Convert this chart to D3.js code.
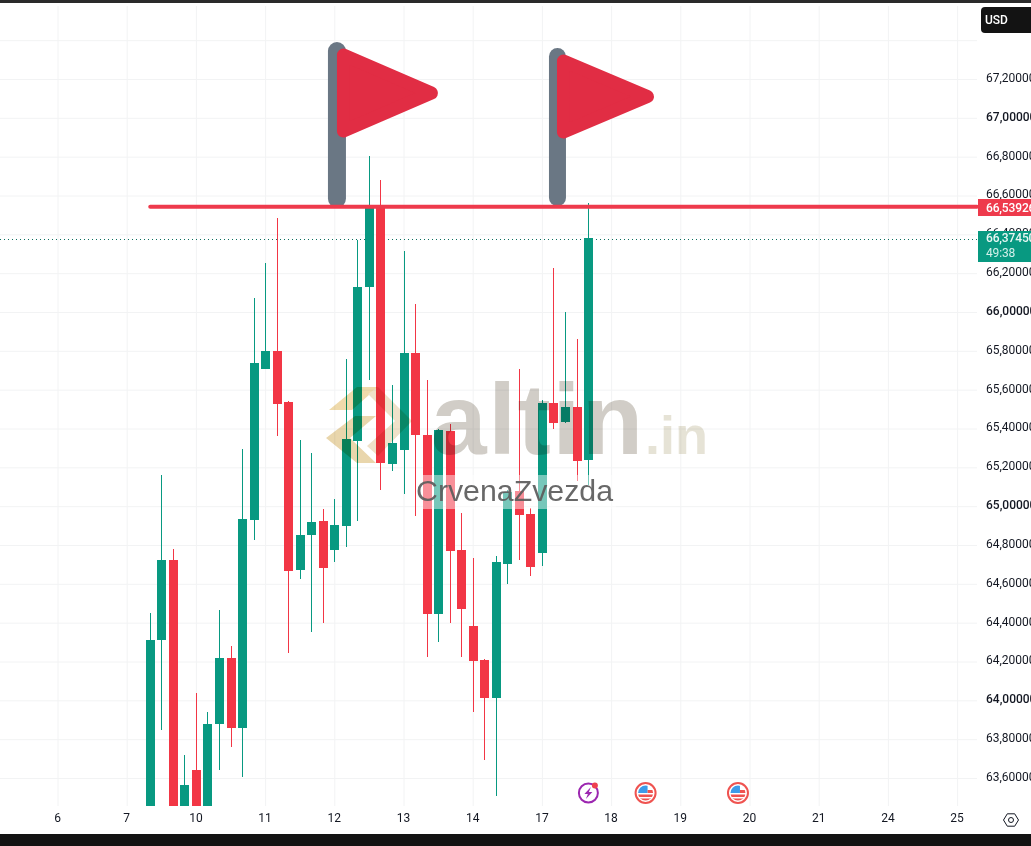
<!DOCTYPE html>
<html><head><meta charset="utf-8">
<script src="https://cdn.jsdelivr.net/npm/d3@7/dist/d3.min.js"></script>
<style>
html,body{margin:0;padding:0;background:#fff;overflow:hidden}
svg{display:block}
.ax text{font-family:Roboto,"Liberation Sans",sans-serif;font-size:12px;fill:#131722}
</style></head><body><svg id="c" width="1031" height="846"></svg>
<script>
const barIndex=[8,9,10,11,12,13,14,15,16,17,18,19,20,21,22,23,24,25,26,27,28,29,30,31,32,33,34,35,36,37,38,39,40,41,42,43,44,45,46];
const opens=[63400,64306,64718,63380,63637,63400,63874,64214,63853,64924,65702,65794,65532,64667,64847,64919,64770,64893,65331,66124,66539,65212,65285,65784,65362,64440,65382,64770,64378,64203,64008,64698,65073,64955,64754,65527,65429,65506,65233];
const highs=[64445,65156,64775,63714,64033,63936,64461,64275,65290,66067,66247,66479,65537,65336,65269,64981,65032,65753,66366,66798,66675,65619,66309,66036,65645,65392,65418,64960,64728,64208,64739,65079,65702,64986,65542,66222,65995,65856,66556];
const lows=[63300,63843,63300,63300,63350,63350,63637,63755,63601,64821,65702,65357,64239,64620,64347,64394,64708,64785,64919,65645,65079,65176,65058,64945,64219,64296,64394,64219,63936,63688,63503,64595,64718,64636,64687,65393,65424,65125,65104];
const closes=[64306,64718,63380,63560,63400,63874,64214,63853,64929,65733,65794,65521,64662,64847,64914,64677,64898,65341,66124,66539,65218,65321,65784,65362,64440,65388,64765,64466,64198,64008,64708,65068,64950,64682,65527,65424,65506,65228,66374.5];
const dayIndex=[0,6,12,18,24,30,36,42,48,54,60,66,72,78];
const dayLabels=["6","7","10","11","12","13","14","17","18","19","20","21","24","25"];
const gridPrices=[63600,63800,64000,64200,64400,64600,64800,65000,65200,65400,65600,65800,66000,66200,66400,66600,66800,67000,67200,67400];
const labelPrices=[63600,63800,64000,64200,64400,64600,64800,65000,65200,65400,65600,65800,66000,66200,66400,66600,66800,67000,67200];
const levelPrice=66539.26, levelLabel="66,53926";
const lastPrice=66374.5, lastLabel="66,37450", countdown="49:38";
const levelStartBar=8.04;
const flagBars=[24.23,43.35];
const flagTops=[67385,67354];
const eventBars=[46.03,50.99,59.0];
const watermark=["altin",".in"], caption="CrvenaZvezda", currency="USD";

const UP="#089981",DN="#F23645";
const x=d3.scaleLinear().domain([0,78]).range([57.5,957.1]);
const y=d3.scaleLinear().domain([67200,63600]).range([78,777]);
const svg=d3.select("#c");
const defs=svg.append("defs");
defs.append("clipPath").attr("id","plot").append("rect").attr("x",0).attr("y",3).attr("width",977).attr("height",803);

// grid
const gx=svg.append("g").attr("transform","translate(0,806)").call(d3.axisBottom(x).tickValues(dayIndex).tickSize(-800).tickFormat(""));
gx.select(".domain").remove();
const gy=svg.append("g").attr("transform","translate(977,1)").call(d3.axisLeft(y).tickValues(gridPrices).tickSize(977).tickFormat(""));
gy.select(".domain").remove();
svg.selectAll("g line").attr("stroke","#f2f3f4").attr("stroke-width",1);

// last price dotted line
svg.append("line").attr("x1",0).attr("x2",978).attr("y1",Math.round(y(lastPrice))+1.5).attr("y2",Math.round(y(lastPrice))+1.5)
  .attr("stroke","#0b6e5e").attr("stroke-dasharray","1 3");

// candles
const rows=barIndex.map((b,i)=>({b,o:opens[i],h:highs[i],l:lows[i],c:closes[i]}));
const cg=svg.append("g").attr("clip-path","url(#plot)");
const col=d=>d.c>=d.o?UP:DN;
cg.selectAll("rect.w").data(rows).join("rect").attr("class","w")
  .attr("x",d=>Math.round(x(d.b))).attr("width",1)
  .attr("y",d=>Math.round(y(d.h))).attr("height",d=>Math.round(y(d.l))-Math.round(y(d.h)))
  .attr("fill",col);
cg.selectAll("rect.b").data(rows).join("rect").attr("class","b")
  .attr("x",d=>Math.round(x(d.b))-4).attr("width",9)
  .attr("y",d=>Math.round(y(Math.max(d.o,d.c)))).attr("height",d=>Math.round(y(Math.min(d.o,d.c)))-Math.round(y(Math.max(d.o,d.c))))
  .attr("fill",col);

// watermark logo
const wm=svg.append("g").style("mix-blend-mode","multiply").attr("opacity",.85);
wm.append("path").attr("d","M329,410L357,387H378L352,410Z").attr("fill","#ecd49c");
wm.append("path").attr("d","M326,438L355,416H376L350,438L376,463H357Z").attr("fill","#e6cf9e");
wm.append("path").attr("d","M378,387L412,421L378,456L367,446L395,421L368,394Z").attr("fill","#ecdcc0");
wm.append("text").attr("x",431).attr("y",454).attr("font-family","Liberation Sans").attr("font-weight","700").attr("font-size",100).attr("letter-spacing",1.6).attr("fill","#c9c5bd").text(watermark[0]);
wm.append("text").attr("x",645).attr("y",454).attr("font-family","Liberation Sans").attr("font-weight","700").attr("font-size",54).attr("fill","#e2decf").text(watermark[1]);
svg.append("rect").attr("x",416).attr("y",475).attr("width",200).attr("height",34).attr("fill","#fff").attr("opacity",.45);
svg.append("text").attr("x",416).attr("y",501).attr("font-family","Liberation Sans").attr("font-size",30.3).attr("fill","#5c5c5c").attr("opacity",.92).text(caption);

// flags
const flagShape=[{dx:6.5,t:13,h:76,w:88},{dx:6,t:13,h:71,w:84}];
flagBars.forEach((b,i)=>{
  const cx=x(b), top=y(flagTops[i]), bot=y(levelPrice)+(i?0:1.5), w=i?17:18, s=flagShape[i];
  svg.append("rect").attr("x",cx-w/2).attr("y",top).attr("width",w).attr("height",bot-top).attr("rx",w/2).attr("fill","#6a7784");
  const fx=cx+s.dx, ft=top+s.t, fb=ft+s.h, tip=fx+s.w;
  svg.append("path").attr("d",`M${fx},${ft}L${tip},${(ft+fb)/2}L${fx},${fb}Z`)
    .attr("fill","#e12d44").attr("stroke","#e12d44").attr("stroke-width",13).attr("stroke-linejoin","round");
});

// level line
svg.append("line").attr("x1",x(levelStartBar)).attr("x2",977).attr("y1",y(levelPrice)+.5).attr("y2",y(levelPrice)+.5)
  .attr("stroke","#EE3A4C").attr("stroke-width",4).attr("stroke-linecap","round");

// event markers
const evY=793;
const ev0=svg.append("g").attr("transform",`translate(${x(eventBars[0])},${evY})`);
ev0.append("circle").attr("r",9.5).attr("fill","#fff").attr("stroke","#9c27b0").attr("stroke-width",2);
ev0.append("path").attr("d","M2.5,-6L-4,1H-0.5L-2.5,6L4,-1H0.5Z").attr("fill","#9c27b0");
ev0.append("circle").attr("cx",6.5).attr("cy",-7.5).attr("r",3).attr("fill","#ef4050");
eventBars.slice(1).forEach((b,k)=>{
  const id="us"+k;
  defs.append("clipPath").attr("id",id).append("circle").attr("r",7.5);
  const g=svg.append("g").attr("transform",`translate(${x(b)},${evY})`);
  g.append("circle").attr("r",10).attr("fill","#fff").attr("stroke","#ef5350").attr("stroke-width",2);
  const f=g.append("g").attr("clip-path",`url(#${id})`);
  f.append("rect").attr("x",-8).attr("y",-8).attr("width",16).attr("height",16).attr("fill","#fff");
  f.append("rect").attr("x",-8).attr("y",-8).attr("width",10).attr("height",8).attr("fill","#3d9be9");
  f.append("rect").attr("x",2).attr("y",-3).attr("width",8).attr("height",3).attr("fill","#ef5350");
  f.append("rect").attr("x",-8).attr("y",1.5).attr("width",16).attr("height",2.5).attr("fill","#ef5350");
  f.append("rect").attr("x",-8).attr("y",5.5).attr("width",16).attr("height",2.5).attr("fill","#ef5350");
});

// axes
const ra=svg.append("g").attr("class","ax").attr("transform","translate(986,-0.5)")
  .call(d3.axisRight(y).tickValues(labelPrices).tickSize(0).tickPadding(0).tickFormat(d=>d3.format(",")(d)+"00"));
ra.select(".domain").remove();
ra.selectAll("text").attr("font-weight",d=>d%1000===0?"500":"400").attr("dy","0.32em");
const ba=svg.append("g").attr("class","ax").attr("transform","translate(-0.5,813)")
  .call(d3.axisBottom(x).tickValues(dayIndex).tickSize(0).tickPadding(0).tickFormat((d,i)=>dayLabels[i]));
ba.select(".domain").remove();

// price tags
const tag=(yy,h,c)=>svg.append("rect").attr("x",978).attr("y",yy).attr("width",53).attr("height",h).attr("fill",c);
const tt=(yy,t,c,w)=>svg.append("text").attr("x",986).attr("y",yy).attr("font-family","Roboto,Liberation Sans").attr("font-size",12).attr("font-weight",w).attr("letter-spacing",-0.15).attr("fill",c).text(t);
tag(199,17,"#EE3A4C"); tt(211.5,levelLabel,"#fff",500);
tag(231,31,UP); tt(242,lastLabel,"#e8f7f4",500); tt(257,countdown,"#d4f0ea",400);

// currency button
svg.append("rect").attr("x",981).attr("y",7).attr("width",60).attr("height",26).attr("rx",4).attr("fill","#131313");
svg.append("text").attr("x",985).attr("y",24).attr("font-family","Roboto,Liberation Sans").attr("font-size",12).attr("font-weight",500).attr("fill","#fff").text(currency);

// settings icon
const si=svg.append("g").attr("transform","translate(1011,820)").attr("fill","none").attr("stroke","#131722").attr("stroke-width",1);
si.append("path").attr("d","M-7.5,0L-3.7,-6.2H3.7L7.5,0L3.7,6.2H-3.7Z");
si.append("circle").attr("r",2.5);

// chrome bars
svg.append("rect").attr("width",1031).attr("height",3).attr("fill","#2a2a2a");
svg.append("rect").attr("y",834).attr("width",1031).attr("height",12).attr("fill","#131313");
</script></body></html>
